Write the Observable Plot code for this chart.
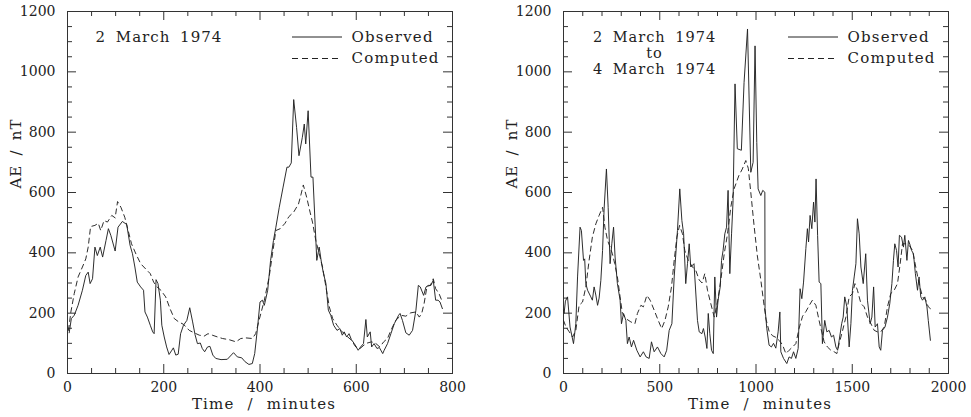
<!DOCTYPE html>
<html><head><meta charset="utf-8">
<script src="https://cdn.jsdelivr.net/npm/d3@7"></script>
<script src="https://cdn.jsdelivr.net/npm/@observablehq/plot@0.6"></script>
<style>
body{margin:0;background:#fff;}
#wrap{display:flex;width:971px;height:417px;overflow:hidden;}
</style></head><body><div id="wrap"></div>
<script>
// ---- Left panel: 2 March 1974 ----
const obsLeftT = [3.5,8,14,22,31,38,43,47,52,57,62,68,73,80,85,90,99,105,114,123,130,135,140,145,152,158,161,166,172,177,180,184,188,193,196,201,206,211,216,220,225,230,235,241,248,254,260,265,270,276,280,285,291,296,302,308,319,332,345,353,362,369,377,384,389,395,400,405,409,416,422,428,433,440,448,456,460,465,470,476,481,488,492,495,500,506,510,518,523,528,532,537,542,547,553,560,566,571,575,580,585,590,596,604,609,615,620,623,629,632,637,643,648,655,658,665,672,679,688,691,696,703,710,717,724,729,733,740,745,750,755,760,765,770,774,779];
const obsLeftV = [135,182,193,226,276,325,336,298,314,419,391,419,386,441,480,458,406,485,504,494,425,397,353,303,287,276,204,187,160,138,132,311,298,243,160,121,88,63,75,85,61,64,132,160,176,218,171,129,99,101,83,72,88,90,61,50,46,47,69,55,52,39,30,33,66,154,237,243,226,276,375,441,485,551,618,684,684,698,908,816,722,783,827,761,871,651,651,375,419,364,331,298,210,193,160,143,149,127,138,121,132,112,99,77,88,99,179,121,138,88,99,83,86,66,77,99,132,165,193,199,176,135,127,143,210,292,287,259,287,292,292,309,243,243,237,215];
const compLeftT = [2,7,14,22,31,38,43,48,57,64,69,76,83,92,99,104,111,119,126,133,142,152,164,172,179,186,194,204,213,222,231,241,253,263,274,284,292,301,312,322,336,350,360,371,384,391,398,409,419,426,433,442,452,460,470,480,485,490,497,504,509,516,523,530,537,544,551,560,568,578,589,599,608,616,623,632,641,649,657,665,672,682,693,703,713,724,731,736,741,747,754,760,765,772,779];
const compLeftV = [143,204,265,320,353,380,419,487,491,498,474,507,502,524,516,570,551,518,474,430,397,364,344,331,303,287,276,254,215,182,171,163,143,135,127,124,132,127,121,116,112,105,116,118,116,132,176,243,320,397,474,480,498,520,535,562,592,625,584,535,502,441,397,353,287,221,182,160,143,127,112,88,83,94,101,105,99,88,105,116,143,176,193,190,201,204,187,199,232,289,292,314,281,265,237];

// ---- Right panel: 2 March 1974 to 4 March 1974 ----
const obsRightT = [0,3,10,21,34,52,64,73,86,93,104,110,116,125,142,150,159,168,177,185,194,203,211,223,232,242,251,260,268,280,294,301,312,324,332,341,353,364,381,398,415,429,445,457,471,488,506,523,536,549,563,575,592,604,615,624,635,644,653,661,678,696,705,719,727,736,745,752,760,769,778,786,795,803,814,821,829,838,847,855,864,873,881,891,903,924,938,956,973,985,995,1004,1011,1025,1035,1046,1047,1056,1068,1080,1091,1103,1115,1124,1129,1143,1160,1172,1184,1195,1207,1219,1229,1238,1247,1259,1267,1273,1281,1290,1299,1306,1312,1320,1328,1337,1345,1357,1368,1380,1392,1403,1415,1424,1432,1445,1453,1461,1472,1484,1493,1501,1510,1519,1527,1536,1545,1557,1570,1579,1593,1602,1611,1619,1631,1640,1648,1657,1670,1683,1695,1706,1714,1721,1730,1738,1745,1756,1766,1773,1784,1792,1801,1808,1818,1828,1839,1847,1856,1865,1877,1888,1895,1906];
const obsRightV = [210,199,240,254,154,99,165,320,485,474,375,380,298,276,254,243,287,260,226,250,309,408,546,678,551,364,430,485,386,298,243,165,199,176,99,121,88,110,77,55,72,55,50,105,72,88,66,55,77,143,165,320,474,612,507,463,298,364,430,353,364,176,138,132,149,121,83,199,132,77,66,320,187,243,287,375,408,463,485,607,331,463,574,960,745,740,965,1142,667,700,1086,766,612,590,607,601,216,150,94,88,100,84,138,204,72,50,33,55,50,72,50,83,281,248,303,414,480,436,524,480,568,502,645,458,303,298,99,176,138,143,121,127,88,77,110,165,187,254,221,88,165,276,320,364,513,463,353,298,397,243,165,187,287,154,165,88,77,143,154,187,232,298,375,430,408,353,458,452,419,458,375,441,425,408,397,331,276,320,254,243,254,221,176,110];
const compRightT = [0,13,30,47,64,81,99,116,133,150,168,185,203,215,229,242,254,266,280,294,306,324,350,371,384,402,415,433,450,471,492,510,527,544,561,575,589,603,618,630,648,670,687,705,720,734,748,765,783,800,817,835,852,869,886,911,929,947,960,973,990,1007,1025,1039,1052,1068,1086,1103,1120,1138,1155,1172,1190,1207,1224,1242,1259,1276,1293,1311,1328,1337,1354,1371,1389,1406,1420,1432,1450,1467,1484,1501,1514,1527,1545,1562,1579,1597,1614,1631,1648,1666,1683,1700,1718,1735,1749,1761,1778,1795,1813,1830,1847,1865,1882,1895,1906];
const compRightV = [176,154,138,121,143,226,237,287,375,452,496,524,551,485,441,419,397,364,320,254,199,182,171,165,199,226,221,259,243,210,176,149,176,221,287,375,452,491,463,408,375,353,342,310,300,331,276,232,187,237,309,397,463,551,612,656,678,706,680,600,490,390,310,240,180,140,125,120,110,95,66,77,88,99,150,190,205,225,243,226,175,150,105,88,77,72,66,99,143,187,254,265,298,276,232,221,187,165,143,138,138,154,221,265,276,298,364,430,430,425,408,353,298,254,243,221,215];

// ---- Axes, ticks and text ----
const leftXMajor = [0,200,400,600,800];
const leftXMinor = [50,100,150,250,300,350,450,500,550,650,700,750];
const rightXMajor = [0,500,1000,1500,2000];
const rightXMinor = [100,200,300,400,600,700,800,900,1100,1200,1300,1400,1600,1700,1800,1900];
const yMajor = [0,200,400,600,800,1000,1200];
const yMinor = [50,100,150,250,300,350,450,500,550,650,700,750,850,900,950,1050,1100,1150];
const leftTitle = "2 March 1974";
const rightTitle = "2 March 1974\nto\n4 March 1974";
const legendLabels = ["Observed", "Computed"];
const xLabel = "Time / minutes";
const yLabel = "AE / nT";

const zip = (T, V) => T.map((t, i) => ({t, v: V[i]}));
const FONT = "'DejaVu Serif', serif";
const INK = "#222";

function panel({width, marginLeft, marginRight, xDomain, xMajor, xMinor, obs, comp, title, titleDx, titleAnchor, titleSize, titleLH}) {
  const height = 417, marginTop = 11, marginBottom = 44;
  const ph = height - marginTop - marginBottom;
  const pw = width - marginLeft - marginRight;
  const MAJ = 9, MIN = 5;
  const tk = {stroke: "#333", strokeWidth: 1};
  const legendLines = (index, scales, values, dims) => {
    const g = d3.create("svg:g").attr("stroke", INK).attr("stroke-width", 1);
    const xr = dims.width - dims.marginRight;
    g.append("line").attr("x1", xr - 160).attr("x2", xr - 110).attr("y1", 37).attr("y2", 37);
    g.append("line").attr("x1", xr - 160).attr("x2", xr - 110).attr("y1", 58.5).attr("y2", 58.5).attr("stroke-dasharray", "6,4");
    return g.node();
  };
  const svg = Plot.plot({
    width, height, marginLeft, marginRight, marginTop, marginBottom,
    x: {domain: xDomain},
    y: {domain: [0, 1200]},
    style: {fontFamily: FONT, fontSize: "14px", background: "#fff", color: INK, overflow: "visible"},
    marks: [
      Plot.frame({stroke: "#333"}),
      Plot.tickX(xMajor, {x: d => d, insetTop: ph - MAJ, ...tk}),
      Plot.tickX(xMajor, {x: d => d, insetBottom: ph - MAJ, ...tk}),
      Plot.tickX(xMinor, {x: d => d, insetTop: ph - MIN, ...tk}),
      Plot.tickX(xMinor, {x: d => d, insetBottom: ph - MIN, ...tk}),
      Plot.tickY(yMajor, {y: d => d, insetRight: pw - MAJ, ...tk}),
      Plot.tickY(yMajor, {y: d => d, insetLeft: pw - MAJ, ...tk}),
      Plot.tickY(yMinor, {y: d => d, insetRight: pw - MIN, ...tk}),
      Plot.tickY(yMinor, {y: d => d, insetLeft: pw - MIN, ...tk}),
      Plot.axisX(xMajor, {tickSize: 0, tickPadding: 9, tickFormat: d => String(d), label: null, fill: INK}),
      Plot.axisY(yMajor, {tickSize: 0, tickPadding: 12, tickFormat: d => String(d), label: null, fill: INK}),
      Plot.line(comp, {x: "t", y: "v", stroke: INK, strokeWidth: 0.95, strokeDasharray: "5,4"}),
      Plot.line(obs, {x: "t", y: "v", stroke: INK, strokeWidth: 0.95}),
      Plot.text([title], {text: d => d, frameAnchor: "top-left", textAnchor: titleAnchor, lineAnchor: "top", lineHeight: titleLH, dx: titleDx, dy: 19.6, fontSize: titleSize, fill: INK}),
      Plot.text([legendLabels[0]], {text: d => d, frameAnchor: "top-right", textAnchor: "start", lineAnchor: "top", dx: -101, dy: 20, fontSize: 15, fill: INK}),
      Plot.text([legendLabels[1]], {text: d => d, frameAnchor: "top-right", textAnchor: "start", lineAnchor: "top", dx: -101, dy: 41.3, fontSize: 15, fill: INK}),
      legendLines,
      Plot.text([xLabel], {text: d => d, frameAnchor: "bottom", lineAnchor: "top", dx: 4, dy: 25, fontSize: 15, fill: INK}),
      Plot.text([yLabel], {text: d => d, frameAnchor: "left", rotate: -90, lineAnchor: "middle", dx: -51, dy: -4, fontSize: 15, fill: INK})
    ]
  });
  // spacing to mimic the wide plotter lettering
  const groups = d3.select(svg).selectAll('g[aria-label="text"]').nodes();
  const spacing = [["1px", "4px"], ["1.2px", "0px"], ["1.2px", "0px"], ["1.2px", "7px"], ["1px", "3.5px"]];
  groups.forEach((g, i) => {
    const s = spacing[i] || spacing[0];
    d3.select(g).selectAll("text").style("letter-spacing", s[0]).style("word-spacing", s[1]);
  });
  return svg;
}

const wrap = document.getElementById("wrap");
wrap.append(panel({
  width: 486, marginLeft: 67, marginRight: 34,
  xDomain: [0, 800], xMajor: leftXMajor, xMinor: leftXMinor,
  obs: zip(obsLeftT, obsLeftV), comp: zip(compLeftT, compLeftV),
  title: leftTitle, titleDx: 28, titleAnchor: "start", titleSize: 15, titleLH: 1.05
}));
wrap.append(panel({
  width: 485, marginLeft: 77, marginRight: 23,
  xDomain: [0, 2000], xMajor: rightXMajor, xMinor: rightXMinor,
  obs: zip(obsRightT, obsRightV), comp: zip(compRightT, compRightV),
  title: rightTitle, titleDx: 91, titleAnchor: "middle", titleSize: 14.5, titleLH: 1.08
}));
</script></body></html>
